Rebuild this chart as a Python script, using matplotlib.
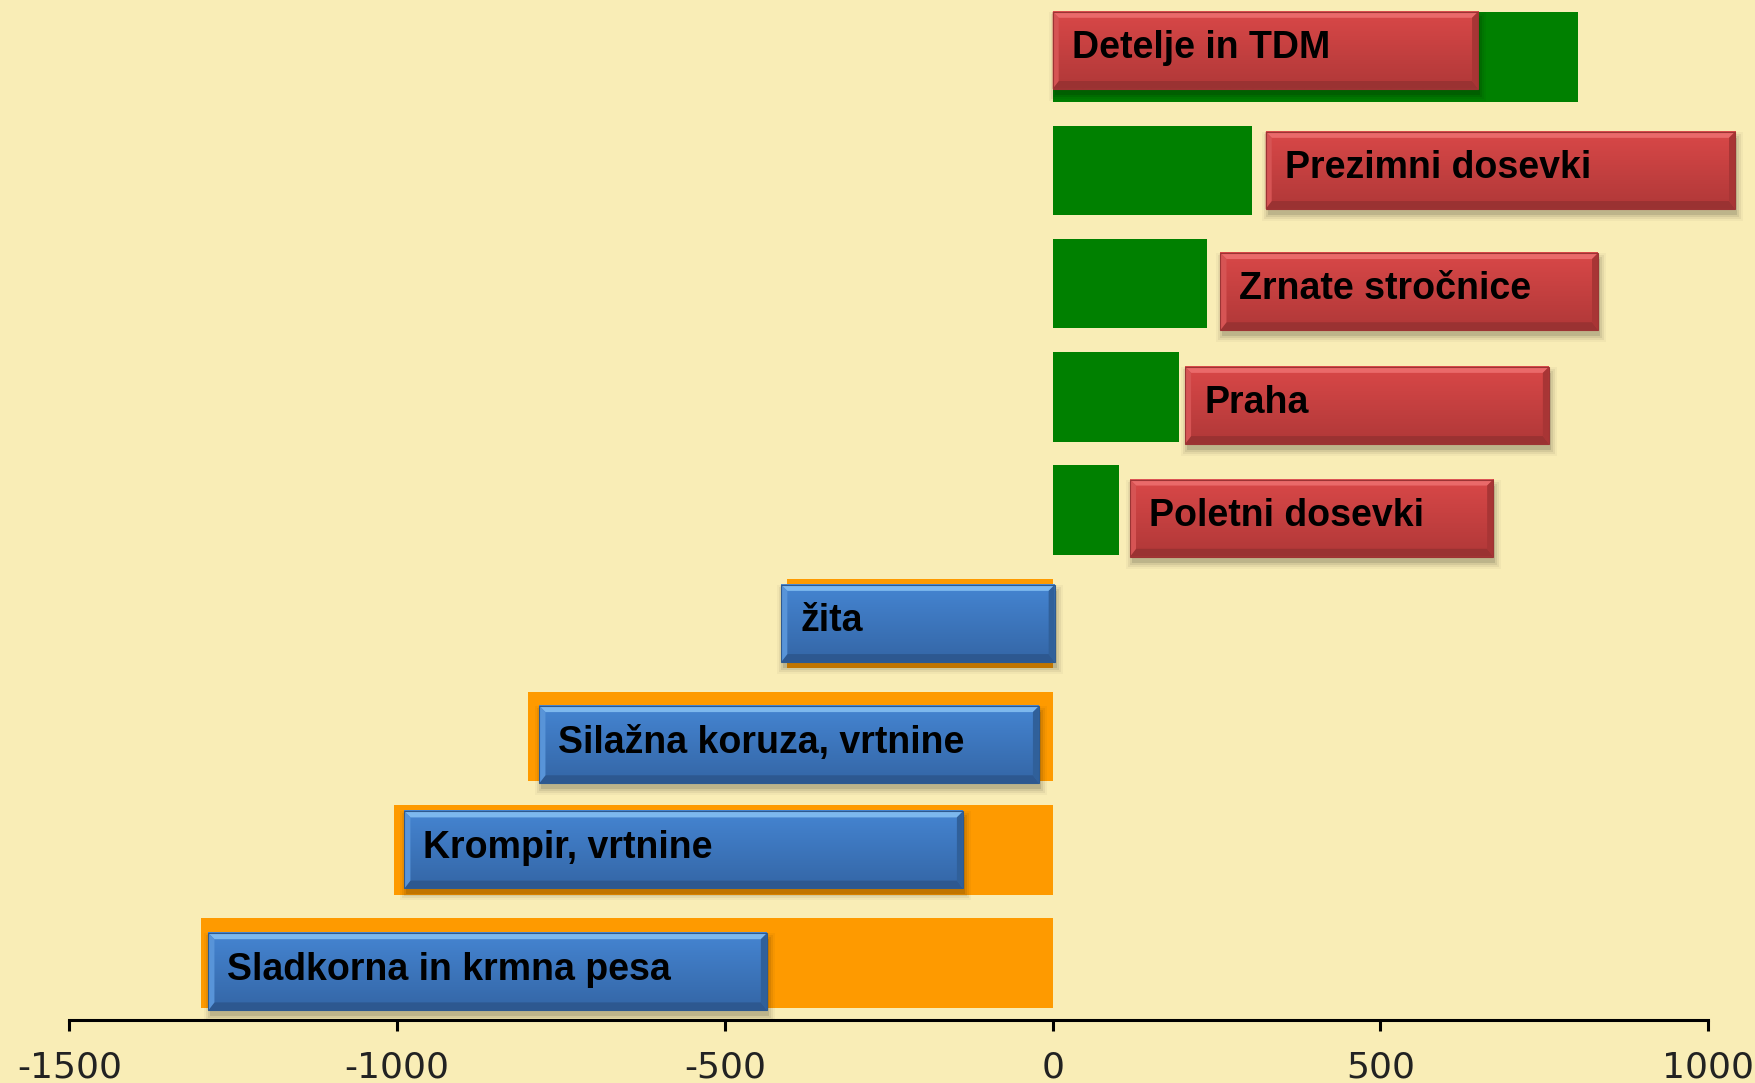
import numpy as np
import matplotlib.pyplot as plt
from matplotlib.patches import Rectangle, Polygon
from matplotlib.colors import LinearSegmentedColormap

plt.rcParams['axes.unicode_minus'] = False
plt.rcParams['font.family'] = ['Liberation Sans', 'DejaVu Sans']

# bottom to top
crops = [
    'Sladkorna in krmna pesa',
    'Krompir, vrtnine',
    'Silažna koruza, vrtnine',
    'žita',
    'Poletni dosevki',
    'Praha',
    'Zrnate stročnice',
    'Prezimni dosevki',
    'Detelje in TDM',
]
values = [-1300, -1005, -801, -405, 101, 193, 236, 304, 801]
ticks = [-1500, -1000, -500, 0, 500, 1000]

# label boxes (layout only): left / right edge in axis units, vertical shift
box_left = [-1288, -989, -783, -414, 118, 202, 256, 325, 0]
box_right = [-436, -137, -21, 3, 672, 757, 832, 1041, 649]
box_shift = [-0.075, 0.0, -0.07, 0.0, -0.07, -0.075, -0.07, 0.0, 0.06]

BG = '#F9EDB6'
XLIM = (-1606, 1073)
YLIM = (-0.504, 8.504)

fig = plt.figure(figsize=(17.56, 10.83), dpi=100, facecolor=BG)
ax = fig.add_axes([0, 1 - 911 / 967, 1, 911 / 967])
ax.set_facecolor(BG)

ypos = np.arange(len(crops))
colors = ['#008000' if v > 0 else '#FE9A00' for v in values]
ax.barh(ypos, values, height=0.79, color=colors, zorder=2)

# size of one pixel in data units
ux = (XLIM[1] - XLIM[0]) / 1756
uy = (YLIM[1] - YLIM[0]) / (1083 * 911 / 967)

palettes = {
    'red': dict(top='#D94848', bot='#B03838', hi='#EA6A6A', lo='#9A3232',
                left='#D65454', right='#A83535', edge='#9C3434'),
    'blue': dict(top='#4585D2', bot='#3466A6', hi='#7DB8EE', lo='#2D5890',
                 left='#5894D8', right='#30609A', edge='#2E5A90'),
}


def draw_box(x0, x1, yc, h, pal, label):
    y0, y1 = yc - h / 2, yc + h / 2
    # soft shadow
    for k, a in enumerate([0.10, 0.07, 0.05, 0.03]):
        g = k * 2
        ax.add_patch(Rectangle((x0 + (2 - g) * ux, y0 - (6 + g) * uy),
                               (x1 - x0) + 2 * g * ux, h + 2 * g * uy,
                               color='black', alpha=a, lw=0, zorder=3))
    cmap = LinearSegmentedColormap.from_list('g', [pal['top'], pal['bot']])
    ax.imshow(np.linspace(0, 1, 64).reshape(-1, 1), cmap=cmap,
              extent=(x0, x1, y0, y1), aspect='auto', origin='upper',
              interpolation='bilinear', zorder=4)
    bx, by = 6 * ux, 6 * uy
    ax.add_patch(Polygon([(x0, y1), (x1, y1), (x1 - bx, y1 - by), (x0 + bx, y1 - by)],
                         color=pal['hi'], lw=0, zorder=5))
    ax.add_patch(Polygon([(x0, y0), (x1, y0), (x1 - bx, y0 + 1.3 * by), (x0 + bx, y0 + 1.3 * by)],
                         color=pal['lo'], lw=0, zorder=5))
    ax.add_patch(Polygon([(x0, y0), (x0, y1), (x0 + bx, y1 - by), (x0 + bx, y0 + 1.3 * by)],
                         color=pal['left'], lw=0, zorder=5))
    ax.add_patch(Polygon([(x1, y0), (x1, y1), (x1 - bx, y1 - by), (x1 - bx, y0 + 1.3 * by)],
                         color=pal['right'], lw=0, zorder=5))
    ax.add_patch(Rectangle((x0, y0), x1 - x0, h, fill=False,
                           edgecolor=pal['edge'], lw=0.8, zorder=5))
    ax.text(x0 + 19 * ux, yc - 0.07, label, fontsize=27, fontweight='bold',
            color='black', va='baseline', ha='left', zorder=6)


for i, name in enumerate(crops):
    pal = palettes['red'] if values[i] > 0 else palettes['blue']
    draw_box(box_left[i], box_right[i], ypos[i] + box_shift[i], 0.68, pal, name)

ax.set_xlim(*XLIM)
ax.set_ylim(*YLIM)
ax.set_xticks(ticks)
ax.set_xticklabels([str(t) for t in ticks], fontfamily='DejaVu Sans')
ax.set_yticks([])
for s in ['top', 'right', 'left']:
    ax.spines[s].set_visible(False)
ax.spines['bottom'].set_bounds(ticks[0], ticks[-1])
ax.spines['bottom'].set_linewidth(2.2)
ax.tick_params(axis='x', direction='out', length=8, width=2.2, pad=14,
               labelsize=26, labelcolor='#222222')

fig.savefig('out.png', dpi=100, facecolor=BG)
